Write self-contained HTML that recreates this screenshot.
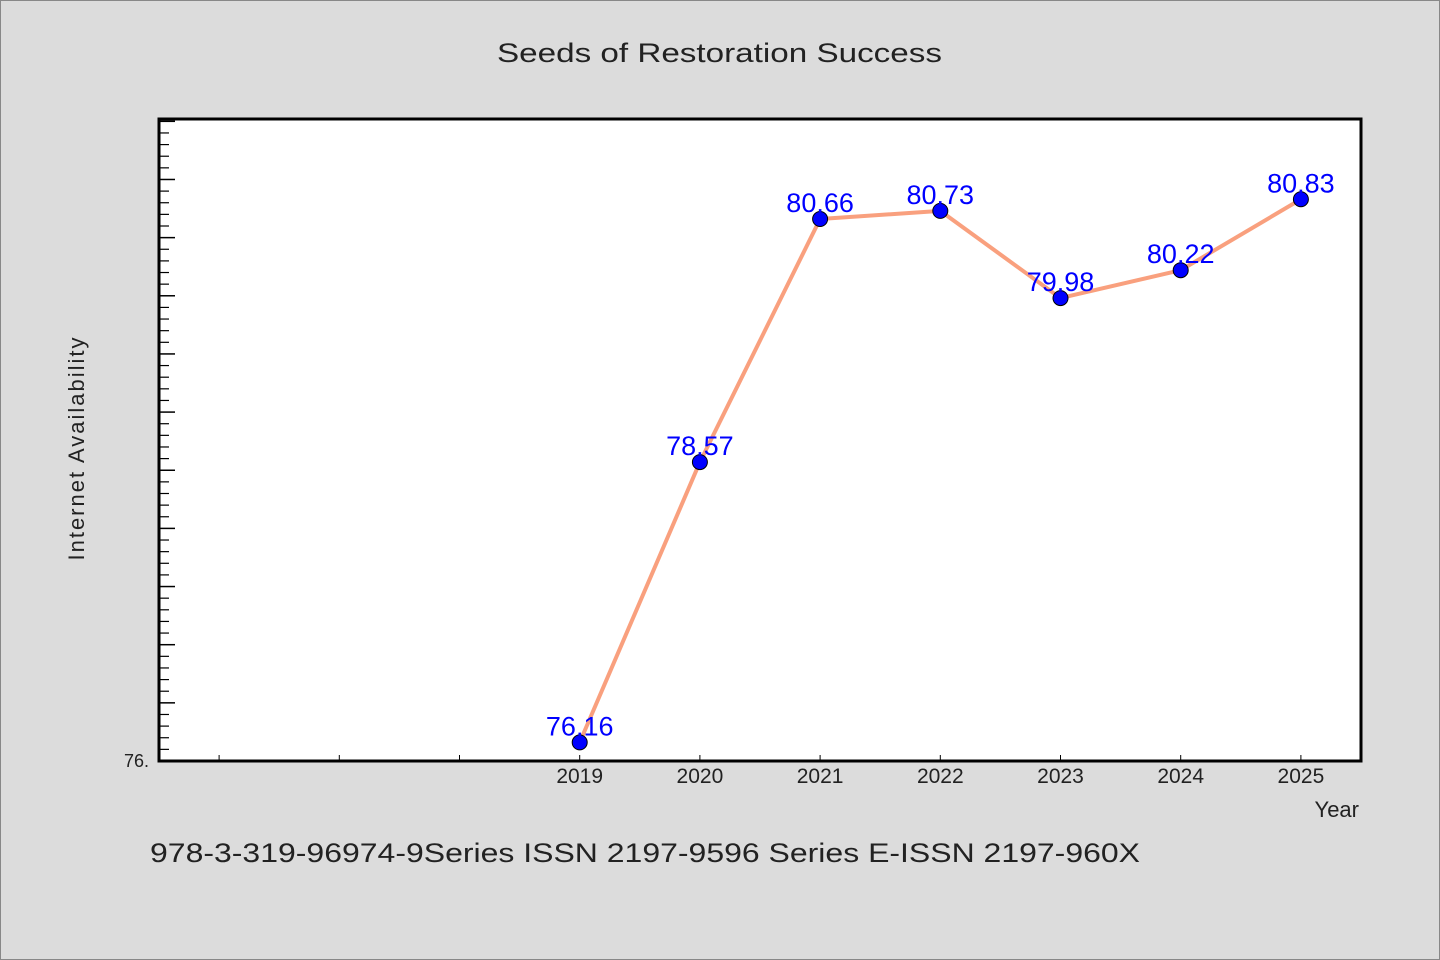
<!DOCTYPE html>
<html><head><meta charset="utf-8"><style>
html,body{margin:0;padding:0;background:#dcdcdc;}
svg{display:block;font-family:"WenQuanYi Zen Hei","Liberation Sans",sans-serif;}
</style></head><body>
<svg id="chart" width="1440" height="960" viewBox="0 0 1440 960" xmlns="http://www.w3.org/2000/svg">
<rect x="0.5" y="0.5" width="1439" height="959" fill="#dcdcdc" stroke="#888"/>
<text x="497" y="62" font-size="27" fill="#222" textLength="445" lengthAdjust="spacingAndGlyphs">Seeds of Restoration Success</text>
<rect x="159" y="119" width="1202" height="642" fill="#fff"/>
<g id="ticks"></g>
<g id="series"></g>
<rect x="159" y="119" width="1202" height="642" fill="none" stroke="#000" stroke-width="3"/>
<text x="124" y="767" font-size="18" fill="#222">76.</text>
<text transform="translate(84,448) rotate(-90)" text-anchor="middle" font-size="22" fill="#222" letter-spacing="2">Internet Availability</text>
<text x="1359" y="817" text-anchor="end" font-size="22" fill="#222">Year</text>
<text x="150" y="862" font-size="27" fill="#222" textLength="990" lengthAdjust="spacingAndGlyphs">978-3-319-96974-9Series ISSN 2197-9596 Series E-ISSN 2197-960X</text>
</svg>
<script>
const years = [2019, 2020, 2021, 2022, 2023, 2024, 2025];
const values = [76.16, 78.57, 80.66, 80.73, 79.98, 80.22, 80.83];
const valueLabels = ["76.16", "78.57", "80.66", "80.73", "79.98", "80.22", "80.83"];
const xMin = 2015.5, xMax = 2025.5, yMin = 76.0, yMax = 81.52;
const L = 159, R = 1361, T = 119, B = 761;
const NS = "http://www.w3.org/2000/svg";
function xs(v){return L + (v - xMin) / (xMax - xMin) * (R - L);}
function ys(v){return B - (v - yMin) / (yMax - yMin) * (B - T);}
function mk(tag, attrs, parent){const e=document.createElementNS(NS,tag);for(const k in attrs)e.setAttribute(k,attrs[k]);parent.appendChild(e);return e;}
const tg = document.getElementById('ticks');
for (let i = 1; i * 0.1 + yMin < yMax; i++) {
  const y = ys(yMin + i * 0.1);
  const major = i % 5 === 0;
  const t = mk('line', {x1: L, x2: L + (major ? 16 : 10), y1: y, y2: y, stroke: '#000', 'stroke-width': major ? 1.5 : 1.2}, tg);
  
  
}
for (let yr = 2016; yr <= 2025; yr++) {
  const x = xs(yr);
  const t = mk('line', {x1: x, x2: x, y1: B, y2: B - 6, stroke: '#000', 'stroke-width': 1}, tg);
  
  
}
years.forEach(function(yr){
  const t = mk('text', {x: xs(yr), y: 783, 'text-anchor': 'middle', 'font-size': 21, fill: '#222'}, tg);
  t.textContent = String(yr);
  
  
});
const sg = document.getElementById('series');
const pts = years.map(function(yr, i){return xs(yr) + ',' + ys(values[i]);}).join(' ');
const line = mk('polyline', {points: pts, fill: 'none', stroke: '#f9a07e', 'stroke-width': 4, 'stroke-linejoin': 'round'}, sg);


years.forEach(function(yr, i){
  const c = mk('circle', {cx: xs(yr), cy: ys(values[i]), r: 7.5, fill: '#0000ff', stroke: '#000', 'stroke-width': 1}, sg);
  
  
  const t = mk('text', {x: xs(yr), y: ys(values[i]) - 7, 'text-anchor': 'middle', 'font-size': 27, fill: '#0000ff'}, sg);
  t.textContent = valueLabels[i];
  
  
});
</script>
</body></html>
